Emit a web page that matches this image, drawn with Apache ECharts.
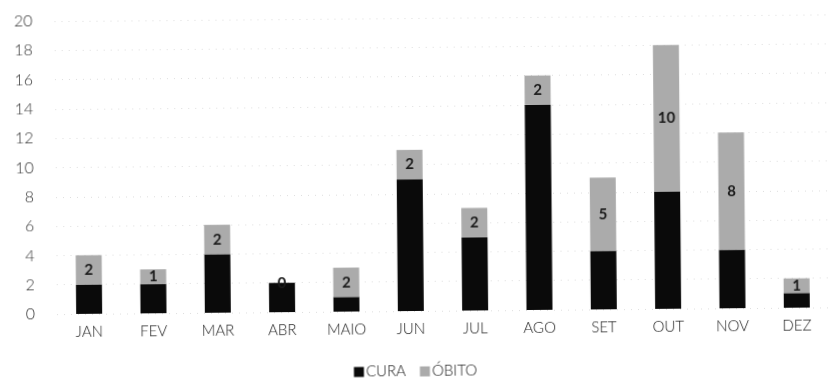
<!DOCTYPE html>
<html>
<head>
<meta charset="utf-8">
<script src="https://cdn.jsdelivr.net/npm/echarts@6/dist/echarts.min.js"></script>
<style>
  html, body { margin: 0; padding: 0; background: #fff; }
  #chart { width: 828px; height: 391px; transform: rotate(-0.5deg); transform-origin: 50% 50%; }
</style>
</head>
<body>
<div id="chart"></div>
<script>
// Monthly outcomes: cured vs. deaths (stacked)
const months = ['JAN', 'FEV', 'MAR', 'ABR', 'MAIO', 'JUN', 'JUL', 'AGO', 'SET', 'OUT', 'NOV', 'DEZ'];
const cura   = [2, 2, 4, 2, 1, 9, 5, 14, 4, 8, 4, 1];
const obito  = [2, 1, 2, 0, 2, 2, 2, 2, 5, 10, 8, 1];
const yTicks = { min: 0, max: 20, interval: 2 };

const FONT = 'Lato, "Open Sans", sans-serif';

const chart = echarts.init(document.getElementById('chart'), null, { renderer: 'canvas' });
chart.setOption({
  animation: false,
  backgroundColor: '#fff',
  textStyle: { fontFamily: FONT },
  grid: { left: 56, top: 18, width: 786, height: 293, containLabel: false },
  legend: {
    bottom: 7,
    left: 'center',
    itemWidth: 10,
    itemHeight: 10,
    itemGap: 14,
    icon: 'rect',
    textStyle: { fontFamily: FONT, fontSize: 15, fontWeight: 300, color: '#222', padding: [0, 0, 0, -3] },
    data: ['CURA', 'ÓBITO']
  },
  xAxis: {
    type: 'category',
    data: months,
    axisLine: { show: false },
    axisTick: { show: false },
    axisLabel: { fontFamily: FONT, fontSize: 15, fontWeight: 300, color: '#222', margin: 11 }
  },
  yAxis: {
    type: 'value',
    min: yTicks.min,
    max: yTicks.max,
    interval: yTicks.interval,
    axisLine: { show: false },
    axisTick: { show: false },
    axisLabel: { fontFamily: FONT, fontSize: 16, fontWeight: 300, color: '#333', margin: 22 },
    splitLine: { lineStyle: { color: '#dedede', type: [1, 6], width: 1 } }
  },
  series: [
    {
      name: 'CURA',
      type: 'bar',
      stack: 'total',
      data: cura,
      barWidth: 26,
      itemStyle: { color: '#0a0a0a' }
    },
    {
      name: 'ÓBITO',
      type: 'bar',
      stack: 'total',
      data: obito,
      barWidth: 26,
      itemStyle: { color: '#ababab' },
      label: {
        show: true,
        position: 'inside',
        fontFamily: FONT,
        fontWeight: 'bold',
        fontSize: 15,
        color: '#1a1a1a'
      }
    }
  ]
});
</script>
</body>
</html>
